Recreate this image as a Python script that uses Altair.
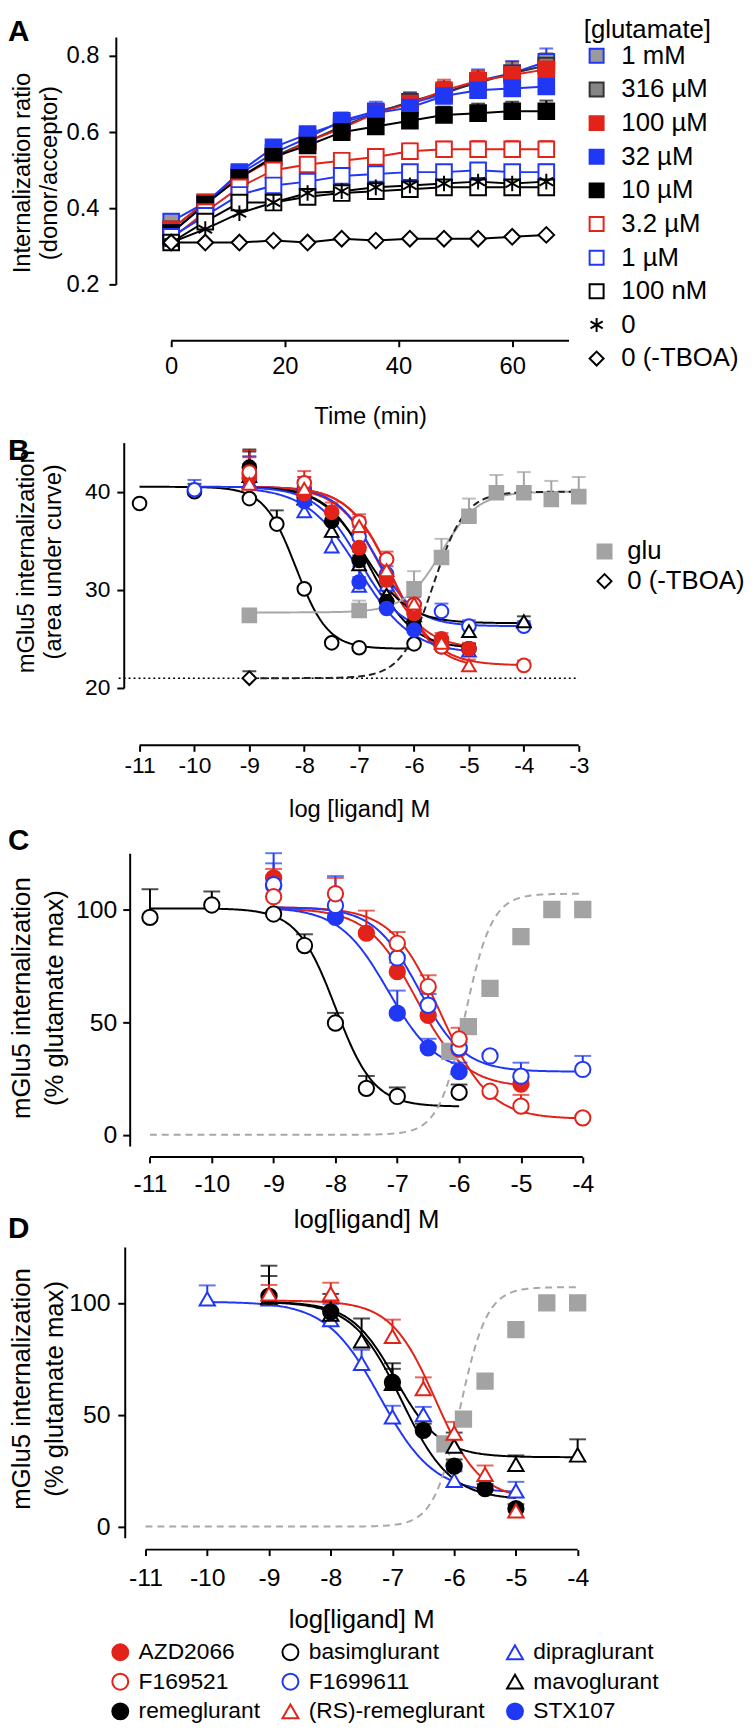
import altair as alt
import pandas as pd

FONT = "Liberation Sans"
RED = "#e2231a"
BLUE = "#2038f5"
GRAY = "#a3a3a3"
BLK = "#000000"
ASTERISK = "M0,-1L0,1M-0.87,-0.5L0.87,0.5M-0.87,0.5L0.87,-0.5"

# ---------------- Panel A data ----------------
time_min = [0, 6, 12, 18, 24, 30, 36, 42, 48, 54, 60, 66]
glut_names = ["1 mM", "316 µM", "100 µM", "32 µM", "10 µM", "3.2 µM", "1 µM", "100 nM", "0", "0 (-TBOA)"]
a_1mM = [0.365, 0.415, 0.490, 0.545, 0.585, 0.630, 0.655, 0.675, 0.700, 0.735, 0.755, 0.785]
a_316uM = [0.345, 0.415, 0.480, 0.535, 0.575, 0.615, 0.650, 0.680, 0.705, 0.730, 0.755, 0.775]
a_100uM = [0.345, 0.415, 0.480, 0.530, 0.575, 0.610, 0.650, 0.675, 0.710, 0.735, 0.750, 0.765]
a_32uM = [0.335, 0.410, 0.495, 0.560, 0.595, 0.625, 0.650, 0.665, 0.695, 0.710, 0.715, 0.720]
a_10uM = [0.335, 0.410, 0.480, 0.535, 0.565, 0.600, 0.615, 0.630, 0.645, 0.650, 0.655, 0.655]
a_3uM = [0.320, 0.390, 0.455, 0.500, 0.515, 0.525, 0.535, 0.550, 0.555, 0.555, 0.555, 0.555]
a_1uM = [0.325, 0.380, 0.435, 0.460, 0.470, 0.485, 0.490, 0.495, 0.495, 0.500, 0.495, 0.495]
a_100nM = [0.310, 0.365, 0.415, 0.415, 0.430, 0.440, 0.445, 0.450, 0.455, 0.455, 0.455, 0.455]
a_zero = [0.310, 0.345, 0.387, 0.415, 0.440, 0.445, 0.455, 0.460, 0.465, 0.470, 0.465, 0.470]
a_tboa = [0.310, 0.310, 0.310, 0.315, 0.310, 0.320, 0.315, 0.320, 0.320, 0.320, 0.325, 0.330]
e_1mM = [0.010, 0.010, 0.012, 0.015, 0.020, 0.022, 0.025, 0.028, 0.030, 0.030, 0.032, 0.035]
e_316uM = [0.010, 0.010, 0.012, 0.015, 0.018, 0.020, 0.022, 0.025, 0.028, 0.030, 0.030, 0.032]
e_100uM = [0.010, 0.010, 0.012, 0.015, 0.018, 0.020, 0.022, 0.025, 0.028, 0.028, 0.030, 0.030]
e_32uM = [0.010, 0.010, 0.012, 0.015, 0.018, 0.020, 0.022, 0.022, 0.025, 0.028, 0.030, 0.032]
e_10uM = [0.010, 0.010, 0.012, 0.015, 0.018, 0.020, 0.020, 0.022, 0.022, 0.025, 0.025, 0.028]
e_3uM = [0.010, 0.010, 0.012, 0.015, 0.018, 0.020, 0.020, 0.020, 0.020, 0.022, 0.022, 0.022]
e_1uM = [0.008, 0.010, 0.010, 0.012, 0.015, 0.015, 0.015, 0.015, 0.018, 0.018, 0.018, 0.020]
e_100nM = [0.008, 0.010, 0.010, 0.012, 0.012, 0.015, 0.015, 0.015, 0.018, 0.018, 0.018, 0.018]
e_zero = [0.008, 0.008, 0.010, 0.010, 0.012, 0.012, 0.015, 0.015, 0.015, 0.015, 0.015, 0.015]
e_tboa = [0.0, 0.0, 0.0, 0.0, 0.0, 0.0, 0.0, 0.0, 0.0, 0.0, 0.0, 0.0]

# ---------------- Panel B data ----------------
b_glu_x = [-9, -7, -6, -5.5, -5, -4.5, -4, -3.5, -3]
b_glu_y = [27.4, 27.9, 30.1, 33.3, 37.5, 39.9, 39.9, 39.2, 39.5]
b_glu_e = [0.0, 1.0, 1.8, 1.9, 1.8, 1.8, 2.1, 1.9, 2.0]
b_tboa_x = [-9]
b_tboa_y = [21.0]
b_tboa_e = [0.7]
b_basim_x = [-11, -10, -9, -8.5, -8, -7.5, -7, -6]
b_basim_y = [38.8, 40.0, 39.3, 36.7, 30.1, 24.6, 24.1, 24.5]
b_basim_e = [0, 0.8, 0, 1.4, 0, 0, 0, 0]
b_azd_x = [-9, -8, -7.5, -7, -6.5, -6, -5.5, -5]
b_azd_y = [41.5, 39.8, 37.9, 34.3, 31.0, 27.6, 25.0, 24.0]
b_azd_e = [2.0, 1.0, 1.0, 0.8, 0.8, 0.8, 0.6, 0.6]
b_f521_x = [-9, -8, -7, -6.5, -6, -5.5, -4]
b_f521_y = [42.0, 40.9, 36.9, 33.1, 28.5, 24.2, 22.3]
b_f521_e = [2.2, 1.2, 0.8, 0.8, 0.8, 0.6, 0.5]
b_remeg_x = [-9, -8, -7.5, -7, -6.5, -6, -5.5, -5]
b_remeg_y = [42.5, 39.4, 37.0, 33.0, 28.8, 26.3, 24.2, 24.0]
b_remeg_e = [1.8, 1.0, 1.0, 0.9, 0.8, 0.6, 0.5, 0.5]
b_f611_x = [-10, -9, -8, -7, -6.5, -6, -5.5, -5, -4]
b_f611_y = [40.2, 41.3, 40.3, 35.4, 31.6, 28.5, 27.8, 26.3, 26.3]
b_f611_e = [1.0, 2.3, 1.2, 1.0, 0.8, 0.8, 0.8, 0.6, 0.5]
b_rs_x = [-9, -8, -7, -6.5, -6, -5.5, -5]
b_rs_y = [40.8, 40.3, 36.5, 32.0, 28.6, 24.6, 22.3]
b_rs_e = [2.0, 1.2, 0.9, 0.9, 0.9, 0.6, 0.6]
b_dipra_x = [-9, -8, -7.5, -7, -6.5, -6, -5]
b_dipra_y = [41.0, 38.0, 34.4, 30.4, 30.5, 26.6, 23.8]
b_dipra_e = [1.8, 1.0, 1.0, 0.9, 0.9, 0.6, 0.6]
b_mavo_x = [-9, -8, -7.5, -7, -6.5, -6, -5, -4]
b_mavo_y = [41.6, 39.3, 36.0, 32.6, 29.5, 27.4, 25.8, 26.8]
b_mavo_e = [2.5, 1.0, 1.0, 0.9, 0.8, 0.6, 0.6, 0.5]
b_stx_x = [-9, -8, -7, -6.5, -6]
b_stx_y = [41.8, 39.0, 30.8, 28.1, 25.9]
b_stx_e = [1.8, 1.0, 1.6, 0.8, 0.6]

# fitted curve parameters (left plateau, right plateau, log EC/IC50, hill, x range)
b_fit_names = ["basimglurant", "AZD2066", "F169521", "remeglurant", "F1699611", "(RS)-remeglurant",
               "dipraglurant", "mavoglurant", "STX107", "glu", "glu (-TBOA)"]
b_fit_left = [40.5, 40.5, 40.5, 40.5, 40.5, 40.5, 40.5, 40.5, 40.5, 27.7, 21.0]
b_fit_right = [24.0, 24.0, 22.3, 24.0, 26.3, 22.0, 23.5, 26.6, 25.5, 40.0, 40.0]
b_fit_mid = [-8.15, -6.6, -6.4, -6.8, -6.7, -6.4, -7.0, -6.9, -7.0, -5.5, -5.65]
b_fit_hill = [1.5, 1.1, 1.1, 1.1, 1.2, 1.1, 0.9, 1.1, 1.1, 1.3, 1.5]
b_fit_x0 = [-11, -9, -9, -9, -10, -9, -9, -9, -9, -9, -9]
b_fit_x1 = [-6, -5, -4, -5, -4, -5, -5, -4, -6, -3, -3]

# ---------------- Panel C data ----------------
c_glu_x = [-6.15, -5.85, -5.5, -5.0, -4.5, -4.0]
c_glu_y = [37, 48, 65, 88, 100, 100]
c_glu_e = [0, 0, 0, 0, 0, 0]
c_basim_x = [-11, -10, -9, -8.5, -8, -7.5, -7, -6]
c_basim_y = [96.5, 102, 98, 84, 49.6, 20.6, 17, 18.8]
c_basim_e = [12.5, 6, 0, 5, 4.5, 5.5, 4, 3.5]
c_azd_x = [-9, -7.5, -7, -6.5, -6, -5]
c_azd_y = [114, 89.5, 72.4, 53, 38, 22.5]
c_azd_e = [4, 10, 4, 4, 3, 3]
c_f521_x = [-9, -8, -7, -6.5, -6, -5.5, -5, -4]
c_f521_y = [105.7, 107, 85, 65.8, 42.5, 19.3, 12.7, 7.5]
c_f521_e = [8, 7, 5, 5, 5, 0, 5, 0]
c_f611_x = [-9, -8, -7, -6.5, -6, -5.5, -5, -4]
c_f611_y = [111, 101.8, 78.5, 57.5, 38.6, 35, 26, 29]
c_f611_e = [14, 13, 6, 5, 4, 0, 6, 6]
c_stx_x = [-9, -8, -7, -6.5, -6]
c_stx_y = [110.5, 96.5, 54, 38.6, 28]
c_stx_e = [10, 0, 10, 4, 4]
c_fit_names = ["basimglurant", "AZD2066", "F169521", "F1699611", "STX107", "glu"]
c_fit_left = [100.5, 100.5, 101, 101, 101, 0]
c_fit_right = [12.5, 21, 7, 28, 27, 107]
c_fit_mid = [-8.0, -6.7, -6.3, -6.65, -7.15, -5.9]
c_fit_hill = [1.4, 1.1, 1.1, 1.2, 1.1, 2.0]
c_fit_x0 = [-11, -9, -9, -9, -9, -11]
c_fit_x1 = [-6, -5, -4, -4, -6, -4]

# ---------------- Panel D data ----------------
d_glu_x = [-6.15, -5.85, -5.5, -5.0, -4.5, -4.0]
d_glu_y = [37, 48, 65, 88, 100, 100]
d_glu_e = [0, 0, 0, 0, 0, 0]
d_dipra_x = [-10, -9, -8, -7.5, -7, -6.5, -6, -5]
d_dipra_y = [101.8, 101.8, 92.5, 73, 49, 50, 20.7, 16]
d_dipra_e = [6, 2, 7, 6, 5, 3.5, 4, 4]
d_mavo_x = [-9, -8, -7.5, -7, -6, -5, -4]
d_mavo_y = [102.6, 95, 83, 64, 36, 27.8, 32]
d_mavo_e = [14, 9, 10, 9, 6, 4, 7]
d_remeg_x = [-9, -8, -7, -6.5, -6, -5.5, -5]
d_remeg_y = [103, 96, 64.5, 43, 27, 17, 8]
d_remeg_e = [9, 5, 6, 3, 3, 2, 2]
d_rs_x = [-9, -8, -7, -6.5, -6, -5.5, -5]
d_rs_y = [104, 104, 85, 61.7, 41.8, 23.3, 7]
d_rs_e = [4, 5, 7.5, 5, 5, 4, 0]
d_fit_names = ["dipraglurant", "mavoglurant", "remeglurant", "(RS)-remeglurant", "glu"]
d_fit_left = [100.5, 100.5, 100.5, 101, 0]
d_fit_right = [15, 31, 12, 12, 107]
d_fit_mid = [-7.2, -6.95, -6.85, -6.3, -5.9]
d_fit_hill = [1.0, 1.2, 1.1, 1.2, 2.0]
d_fit_x0 = [-10, -9, -9, -9, -11]
d_fit_x1 = [-5, -4, -5, -5, -4]

# ---------------- styles ----------------
STYLE = {
    "AZD2066": ("circle", RED, RED),
    "basimglurant": ("circle", "white", BLK),
    "dipraglurant": ("triangle-up", "white", BLUE),
    "F169521": ("circle", "white", RED),
    "F1699611": ("circle", "white", BLUE),
    "mavoglurant": ("triangle-up", "white", BLK),
    "remeglurant": ("circle", BLK, BLK),
    "(RS)-remeglurant": ("triangle-up", "white", RED),
    "STX107": ("circle", BLUE, BLUE),
    "glu": ("square", GRAY, GRAY),
    "0 (-TBOA)": ("diamond", "white", BLK),
}
CURVE_COLOR = {"basimglurant": BLK, "AZD2066": RED, "F169521": RED, "remeglurant": BLK,
               "F1699611": BLUE, "(RS)-remeglurant": RED, "dipraglurant": BLUE,
               "mavoglurant": BLK, "STX107": BLUE}
# legend order, row by row (3 columns)
cmp_order = ["AZD2066", "basimglurant", "dipraglurant", "F169521", "F1699611", "mavoglurant",
             "remeglurant", "(RS)-remeglurant", "STX107", "glu", "0 (-TBOA)"]


def long_df(names, xs_list, ys_list, es_list):
    rows = []
    for n, xs, ys, es in zip(names, xs_list, ys_list, es_list):
        for x, y, e in zip(xs, ys, es):
            rows.append({"s": n, "x": x, "y": y, "e": e, "hi": y + e})
    return pd.DataFrame(rows)


def x_axis(vals, title, tx, ty, off, lfs, tfs, lpad):
    return alt.Axis(values=vals, title=title, domain=False, tickSize=6, tickWidth=2, tickColor=BLK,
                    labelFont=FONT, labelFontSize=lfs, labelColor=BLK, labelPadding=lpad,
                    labelExpr="'' + datum.value", labelFlush=False, labelOverlap=False,
                    titleFont=FONT, titleFontSize=tfs, titleFontWeight="normal", titleColor=BLK,
                    titleX=tx, titleY=ty, titleBaseline="middle", titleAlign="center",
                    offset=off, grid=False)


def y_axis(vals, title, tx, ty, off, lfs, tfs, lpad, lh):
    return alt.Axis(values=vals, title=title, domainWidth=2, domainColor=BLK, tickSize=7, tickWidth=2,
                    tickColor=BLK, labelFont=FONT, labelFontSize=lfs, labelColor=BLK, labelPadding=lpad,
                    labelExpr="'' + datum.value", labelFlush=False, labelOverlap=False,
                    titleFont=FONT, titleFontSize=tfs, titleFontWeight="normal", titleColor=BLK,
                    titleX=tx, titleY=ty, titleBaseline="middle", titleAlign="center", titleAngle=270,
                    titleLineHeight=lh, offset=off, grid=False)


def curve_layers(names, left, right, mid, hill, x0, x1, colors, dashes, xs, ys, xax, yax, width=2):
    out = []
    for i, n in enumerate(names):
        expr = f"{left[i]} + (({right[i]}) - ({left[i]})) / (1 + pow(10, (({mid[i]}) - datum.x) * {hill[i]}))"
        mk = dict(color=colors[i], strokeWidth=width)
        if dashes[i]:
            mk["strokeDash"] = dashes[i]
        out.append(
            alt.Chart(alt.sequence(x0[i], x1[i] + 0.001, 0.02, as_="x"))
            .transform_calculate(y=expr)
            .mark_line(**mk)
            .encode(x=alt.X("x:Q", scale=xs, axis=xax), y=alt.Y("y:Q", scale=ys, axis=yax))
        )
    return out


def err_layers(df, xs, ys, xax, yax, cscale, cap):
    base = alt.Chart(df).transform_filter("datum.e > 0")
    rules = base.mark_rule(strokeWidth=2).encode(
        x=alt.X("x:Q", scale=xs, axis=xax), y=alt.Y("y:Q", scale=ys, axis=yax), y2="hi:Q",
        color=alt.Color("s:N", scale=cscale, legend=None))
    caps = base.mark_tick(orient="horizontal", size=cap, thickness=2).encode(
        x=alt.X("x:Q", scale=xs, axis=xax), y=alt.Y("hi:Q", scale=ys, axis=yax),
        color=alt.Color("s:N", scale=cscale, legend=None))
    return [rules, caps]


def point_layer(df, xs, ys, xax, yax, names, fills, strokes, shapes, size, legend, title):
    if legend is None:
        f = alt.Fill("s:N", scale=alt.Scale(domain=names, range=fills), legend=None)
        s = alt.Stroke("s:N", scale=alt.Scale(domain=names, range=strokes), legend=None)
        sh = alt.Shape("s:N", scale=alt.Scale(domain=names, range=shapes), legend=None)
    else:
        f = alt.Fill("s:N", scale=alt.Scale(domain=names, range=fills), legend=legend, title=title)
        s = alt.Stroke("s:N", scale=alt.Scale(domain=names, range=strokes), legend=legend, title=title)
        sh = alt.Shape("s:N", scale=alt.Scale(domain=names, range=shapes), legend=legend, title=title)
    return alt.Chart(df).mark_point(filled=True, size=size, strokeWidth=2, opacity=1).encode(
        x=alt.X("x:Q", scale=xs, axis=xax), y=alt.Y("y:Q", scale=ys, axis=yax),
        fill=f, stroke=s, shape=sh)


def axis_line(x0, x1, ypix, xs, xax):
    return alt.Chart(pd.DataFrame({"d": [0]})).mark_rule(color=BLK, strokeWidth=2).encode(
        x=alt.XDatum(x0, scale=xs, axis=xax), x2=alt.datum(x1), y=alt.value(ypix))


def panel_label(letter, ypix):
    return alt.Chart(pd.DataFrame({"t": [letter]})).mark_text(
        align="left", baseline="top", font=FONT, fontSize=30, fontWeight="bold", color=BLK
    ).encode(text="t:N", x=alt.value(-109), y=alt.value(ypix))


def extent(top, bottom):
    # invisible guide fixing the panel's layout box (left edge and vertical extent)
    return alt.Chart(pd.DataFrame({"d": [0]})).mark_rule(color="white", strokeOpacity=0, strokeWidth=1).encode(
        x=alt.value(-109), y=alt.value(top), y2=alt.value(bottom))


# line/error colour scales use a reversed domain so they never merge with the symbol legend
colA = alt.Scale(domain=glut_names[::-1],
                 range=[BLK, BLK, BLK, BLUE, RED, BLK, BLUE, RED, "#333333", BLUE])
colB = alt.Scale(domain=cmp_order[::-1], range=[STYLE[n][2] for n in cmp_order[::-1]])

# ---------------- Panel A ----------------
A_W, A_H = 461, 250
xsA = alt.Scale(domain=[-9.74, 70.5], nice=False, zero=False)
ysA = alt.Scale(domain=[0.2, 0.85], nice=False, zero=False)
xaxA = x_axis([0, 20, 40, 60], "Time (min)", 257, 77, 57, 24, 24, 8)
yaxA = y_axis([0.2, 0.4, 0.6, 0.8], ["Internalization ratio", "(donor/acceptor)"], -94, 137, 0, 24, 24, 10, 27)
dfA = long_df(glut_names, [time_min] * 10,
              [a_1mM, a_316uM, a_100uM, a_32uM, a_10uM, a_3uM, a_1uM, a_100nM, a_zero, a_tboa],
              [e_1mM, e_316uM, e_100uM, e_32uM, e_10uM, e_3uM, e_1uM, e_100nM, e_zero, e_tboa])
a_fill = ["#9a9a9a", "#858585", RED, BLUE, BLK, "white", "white", "white", "white", "white"]
a_stroke = [BLUE, "#333333", RED, BLUE, BLK, RED, BLUE, BLK, BLK, BLK]
a_shape = ["square"] * 8 + [ASTERISK, "diamond"]
legA = alt.Legend(orient="none", legendX=473, legendY=-20, titleFont=FONT, titleFontSize=26,
                  titleFontWeight="normal", titleColor=BLK, titlePadding=0, labelFont=FONT,
                  labelFontSize=26, labelColor=BLK, symbolSize=200, symbolStrokeWidth=2,
                  rowPadding=8, labelOffset=12)
linesA = alt.Chart(dfA).mark_line(strokeWidth=2).encode(
    x=alt.X("x:Q", scale=xsA, axis=xaxA), y=alt.Y("y:Q", scale=ysA, axis=yaxA),
    color=alt.Color("s:N", scale=colA, legend=None))
panelA = alt.layer(
    extent(-20, A_H + 149),
    linesA,
    *err_layers(dfA, xsA, ysA, xaxA, yaxA, colA, 14),
    point_layer(dfA, xsA, ysA, xaxA, yaxA, glut_names, a_fill, a_stroke, a_shape, 250, legA, "[glutamate]"),
    axis_line(0, 70, A_H + 57, xsA, xaxA),
    panel_label("A", -20),
).properties(width=A_W, height=A_H)

# ---------------- Panel B ----------------
B_W, B_H = 474, 248
xsB = alt.Scale(domain=[-11.432, -2.891], nice=False, zero=False)
ysB = alt.Scale(domain=[20, 45], nice=False, zero=False)
xaxB = x_axis(list(range(-11, -2)), "log [ligand] M", 246, 65, 58, 23, 24, 3)
yaxB = y_axis([20, 30, 40], ["mGlu5 internalization", "(area under curve)"], -98, 120, -8, 23, 24, 7, 27)
b_names = ["glu", "0 (-TBOA)", "basimglurant", "F1699611", "dipraglurant", "mavoglurant", "remeglurant",
           "STX107", "AZD2066", "F169521", "(RS)-remeglurant"]
dfB = long_df(b_names,
              [b_glu_x, b_tboa_x, b_basim_x, b_f611_x, b_dipra_x, b_mavo_x, b_remeg_x, b_stx_x, b_azd_x, b_f521_x, b_rs_x],
              [b_glu_y, b_tboa_y, b_basim_y, b_f611_y, b_dipra_y, b_mavo_y, b_remeg_y, b_stx_y, b_azd_y, b_f521_y, b_rs_y],
              [b_glu_e, b_tboa_e, b_basim_e, b_f611_e, b_dipra_e, b_mavo_e, b_remeg_e, b_stx_e, b_azd_e, b_f521_e, b_rs_e])
legB = alt.Legend(orient="none", legendX=481, legendY=97, labelFont=FONT, labelFontSize=26, labelColor=BLK,
                  symbolSize=200, symbolStrokeWidth=2, rowPadding=4, labelOffset=10,
                  values=["glu", "0 (-TBOA)"])
b_curve_colors = [CURVE_COLOR.get(n, "#9a9a9a") for n in b_fit_names[:9]] + ["#a8a8a8", "#222222"]
b_curve_dash = [None] * 10 + [[7, 4]]
dottedB = alt.Chart(pd.DataFrame({"d": [0]})).mark_rule(color=BLK, strokeWidth=1.5, strokeDash=[2, 3]).encode(
    x=alt.XDatum(-11.38, scale=xsB, axis=xaxB), x2=alt.datum(-3), y=alt.YDatum(21, scale=ysB, axis=yaxB))
panelB = alt.layer(
    extent(-10.5, B_H + 136.5),
    dottedB,
    *curve_layers(b_fit_names, b_fit_left, b_fit_right, b_fit_mid, b_fit_hill, b_fit_x0, b_fit_x1,
                  b_curve_colors, b_curve_dash, xsB, ysB, xaxB, yaxB),
    *err_layers(dfB, xsB, ysB, xaxB, yaxB, colB, 14),
    point_layer(dfB, xsB, ysB, xaxB, yaxB, cmp_order, [STYLE[n][1] for n in cmp_order],
                [STYLE[n][2] for n in cmp_order], [STYLE[n][0] for n in cmp_order], 190, legB, None),
    axis_line(-11, -3, B_H + 58, xsB, xaxB),
    panel_label("B", -6),
).properties(width=B_W, height=B_H)

# ---------------- Panel C ----------------
C_W, C_H = 485, 296
xsC = alt.Scale(domain=[-11.552, -3.792], nice=False, zero=False)
ysC = alt.Scale(domain=[-5, 125], nice=False, zero=False)
xaxC = x_axis(list(range(-11, -3)), "log[ligand] M", 253, 63, 11, 25, 26, 9)
yaxC = y_axis([0, 50, 100], ["mGlu5 internalization", "(% glutamate max)"], -109, 146, -14, 25, 26, 6, 33)
c_names = ["glu", "basimglurant", "STX107", "AZD2066", "F1699611", "F169521"]
dfC = long_df(c_names,
              [c_glu_x, c_basim_x, c_stx_x, c_azd_x, c_f611_x, c_f521_x],
              [c_glu_y, c_basim_y, c_stx_y, c_azd_y, c_f611_y, c_f521_y],
              [c_glu_e, c_basim_e, c_stx_e, c_azd_e, c_f611_e, c_f521_e])
c_curve_colors = [CURVE_COLOR.get(n, "#a8a8a8") for n in c_fit_names]
c_curve_dash = [None] * 5 + [[7, 5]]
panelC = alt.layer(
    extent(-30, C_H + 100),
    *curve_layers(c_fit_names, c_fit_left, c_fit_right, c_fit_mid, c_fit_hill, c_fit_x0, c_fit_x1,
                  c_curve_colors, c_curve_dash, xsC, ysC, xaxC, yaxC),
    *err_layers(dfC, xsC, ysC, xaxC, yaxC, colB, 17),
    point_layer(dfC, xsC, ysC, xaxC, yaxC, cmp_order, [STYLE[n][1] for n in cmp_order],
                [STYLE[n][2] for n in cmp_order], [STYLE[n][0] for n in cmp_order], 240, None, None),
    axis_line(-11, -4, C_H + 11, xsC, xaxC),
    panel_label("C", -27),
    panel_label("D", C_H + 69),
).properties(width=C_W, height=C_H)

# ---------------- Panel D ----------------
D_W, D_H = 480, 294
xsD = alt.Scale(domain=[-11.481, -3.789], nice=False, zero=False)
ysD = alt.Scale(domain=[-5, 125], nice=False, zero=False)
xaxD = x_axis(list(range(-11, -3)), "log[ligand] M", 248, 71, 12, 25, 26, 10)
yaxD = y_axis([0, 50, 100], ["mGlu5 internalization", "(% glutamate max)"], -104, 143, -9, 25, 26, 8, 33)
d_names = ["glu", "dipraglurant", "mavoglurant", "remeglurant", "(RS)-remeglurant"]
dfD = long_df(d_names,
              [d_glu_x, d_dipra_x, d_mavo_x, d_remeg_x, d_rs_x],
              [d_glu_y, d_dipra_y, d_mavo_y, d_remeg_y, d_rs_y],
              [d_glu_e, d_dipra_e, d_mavo_e, d_remeg_e, d_rs_e])
d_curve_colors = [CURVE_COLOR.get(n, "#a8a8a8") for n in d_fit_names]
d_curve_dash = [None] * 4 + [[7, 5]]
legD = alt.Legend(orient="none", legendX=-7, legendY=398, columns=3, columnPadding=18, direction="horizontal",
                  gridAlign="each", labelFont=FONT, labelFontSize=23, labelColor=BLK, labelLimit=400,
                  symbolSize=260, symbolStrokeWidth=2, rowPadding=5, labelOffset=7, values=cmp_order[:9])
panelD = alt.layer(
    extent(-2, 0),
    *curve_layers(d_fit_names, d_fit_left, d_fit_right, d_fit_mid, d_fit_hill, d_fit_x0, d_fit_x1,
                  d_curve_colors, d_curve_dash, xsD, ysD, xaxD, yaxD),
    *err_layers(dfD, xsD, ysD, xaxD, yaxD, colB, 17),
    point_layer(dfD, xsD, ysD, xaxD, yaxD, cmp_order, [STYLE[n][1] for n in cmp_order],
                [STYLE[n][2] for n in cmp_order], [STYLE[n][0] for n in cmp_order], 240, legD, None),
    axis_line(-11, -4, D_H + 12, xsD, xaxD),
).properties(width=D_W, height=D_H)

RES = dict(color="independent", fill="independent", stroke="independent", shape="independent")
chart = alt.vconcat(panelA, panelB, panelC, panelD, spacing=0).resolve_scale(**RES).properties(
    padding=0, background="white"
).configure_view(stroke=None)

chart.save("out.html", embed_options={"renderer": "svg", "actions": False})
